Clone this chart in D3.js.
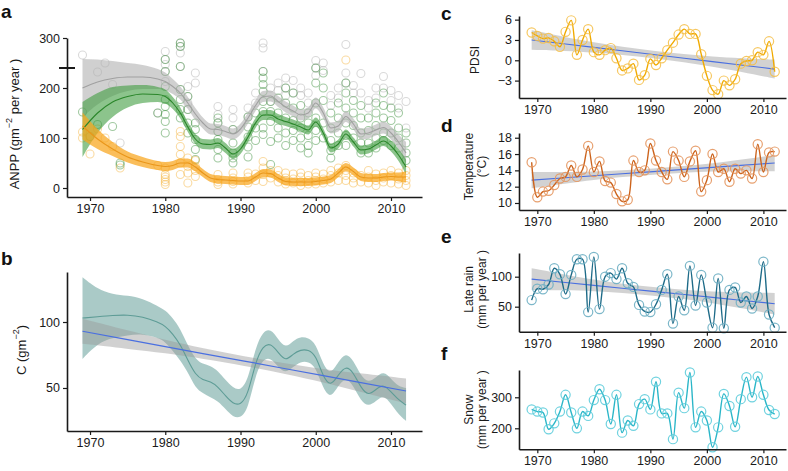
<!DOCTYPE html>
<html><head><meta charset="utf-8">
<script src="https://cdn.jsdelivr.net/npm/d3@7"></script>
<style>
body{margin:0;background:#fff;}
svg text{font-family:"Liberation Sans",Arial,Helvetica,sans-serif;}
</style></head><body>
<svg id="chart" width="788" height="471"></svg>
<script>
// ---------------- DATA ----------------
const xTickYears = [1970, 1980, 1990, 2000, 2010];

// Panel a: ANPP observations per sampled year
const anppYears = [1969,1970,1971,1972,1973,1974,1979,1980,1982,1983,1984,1987,1989,1991,1992,1993,1994,1995,1996,1997,1998,1999,2000,2001,2002,2003,2004,2005,2006,2007,2008,2009,2010,2011,2012];
const anppTotal = [[266],[],[232],[250],[207],[90],[150],[273,257,247,233,213],[290,283,270,243,197],[203,183,170,157],[230,210],[163,147,130,113],[157,140,117],[160,142],[190,170],[290,280,233],[200,173],[210,195],[220,200,185],[215,190],[200,185],[190,170],[255,240,225],[250,235],[185,165],[200,180],[287,230,210],[205,190],[229,190],[175,160],[200,180],[223,200],[195,175],[185,160],[173,120]];
const anppGrass = [[152],[103],[127],[],[123],[50,46],[150],[257,233,203,177,163,147,133,110],[290,283,243,197,177,157,140],[183,157,130,110],[130,117,97,77,57],[140,130,113,97,77,60],[117,90,70,60,50],[142,122,102,82,62],[150,120,95],[233,220,207,193,173,153,120,107],[173,153,133,93,47],[180,150,120,100],[200,170,140,110,85],[190,160,135,115,95],[165,140,120,100,80],[150,130,105,85,70],[240,210,170,140,115,95],[230,200,175,130,100],[150,120,95,75,60],[170,140,110,85],[210,190,160,130,105,85],[175,150,125,100],[165,140,110,90,70],[140,115,90,70],[170,150,125,100,80],[190,165,140,110,95],[160,135,110,85],[150,120,100,80],[110,90,70,55]];
const anppForb = [[112,100],[68],[118],[100],[83],[40],[45],[40,27,17,7,12,22],[113,103,83,67,50,27],[60,43,30,10],[55,43,35,23],[27,17,12,7],[30,20,13,8],[30,22,10],[28,15],[53,40,27,13],[35,30,20],[35,25,12],[30,20,15,8],[28,18,10],[30,22,12,5],[25,15,8],[30,22,15,8],[28,18,10],[35,25,12],[40,30,15],[256,45,35,25,15],[30,20,10],[25,12],[35,22,10],[28,15,5],[30,20,12],[35,25,10],[30,18,8],[35,25,15,5]];
const anppMarkValue = 240;

// Panel a: smoothed fits (loess) with confidence band half-widths
const fitYears = [1969,1971,1973,1975,1977,1979,1980,1981,1982,1983,1984,1985,1986,1987,1988,1989,1990,1991,1992,1993,1994,1995,1996,1997,1998,1999,2000,2001,2002,2003,2004,2005,2006,2007,2008,2009,2010,2011,2012];
const totalFit  = [200,212,219,222,222,218,213,203,190,170,148,130,118,117,113,108,118,140,165,183,184,173,162,154,146,150,170,150,120,124,143,128,108,110,116,121,110,92,70];
const totalHalf = [58,45,35,28,24,20,18,15,13,12,12,11,11,11,11,11,11,11,11,11,11,11,11,11,11,11,11,11,11,11,11,11,11,11,11,12,13,15,22];
const grassFit  = [117,150,172,183,188,187,183,170,150,122,98,88,87,90,80,68,78,102,130,146,146,138,133,128,122,116,132,110,80,88,108,92,76,78,86,94,84,66,42];
const grassHalf = [55,40,30,22,18,15,14,12,11,10,10,10,10,10,10,10,10,10,10,10,10,10,9,9,9,9,9,9,9,9,9,9,9,9,9,10,11,12,15];
const forbFit   = [124,98,78,62,52,45,43,45,50,50,42,30,20,17,16,15,14,14,22,30,29,20,13,12,12,12,13,15,18,30,42,33,22,20,20,22,23,22,22];
const forbHalf  = [27,20,14,11,10,9,9,9,9,9,9,8,8,8,8,8,8,8,8,8,8,8,8,8,8,8,8,8,8,8,8,8,8,8,8,8,8,9,11];

// Panel b: C smoothed fit and band; linear trend with band
const cYears = [1969,1971,1973,1975,1977,1979,1980,1981,1982,1983,1984,1985,1986,1987,1988,1989,1990,1991,1992,1993,1994,1995,1996,1997,1998,1999,2000,2001,2002,2003,2004,2005,2006,2007,2008,2009,2010,2011,2012];
const cFit = [103,104,105,105.5,104,100,97,91,83,71,60,56,55,51,44,38,37,45,70,82,84,77,70,76,79,79,75,58,51,60,67,62,50,44,49,53,47,41,37];
const cLo  = [72,84,88,90,91,88,85,78,71,62,50,46,43,40,34,28,27,34,60,72,73,66,61,66,70,70,66,49,42,52,58,52,40,36,40,45,38,30,25];
const cHi  = [134,125,121,120,118,112,109,103,95,82,72,68,67,63,56,50,48,56,81,93,95,87,80,86,89,88,84,67,60,70,77,71,59,54,58,63,57,51,50];

const trendYears = [1969,1975,1980,1985,1990.5,1996,2001,2006,2012];
const cTrend     = [93,86.7,81.4,76.1,70.4,64.6,59.3,54.0,47.7];
const cTrendHalf = [9.5,7,5,4,3.5,4,5,7,9.5];

// Panels c-f: annual climate series
const years = [1969,1970,1971,1972,1973,1974,1975,1976,1977,1978,1979,1980,1981,1982,1983,1984,1985,1986,1987,1988,1989,1990,1991,1992,1993,1994,1995,1996,1997,1998,1999,2000,2001,2002,2003,2004,2005,2006,2007,2008,2009,2010,2011,2012];
const pdsi = [4.1,3.6,3.2,3.3,2.8,2.0,4.2,5.9,0.8,3.0,4.6,1.2,0.8,1.5,1.8,0.3,-1.5,-1.2,-0.5,-2.9,-2.2,0.2,-0.7,0.3,1.5,2.6,3.8,4.6,3.9,3.9,0.9,-2.3,-4.4,-5.0,-3.0,-3.7,-2.8,-0.5,-0.1,0.0,1.2,0.8,2.8,-1.7];
const pdsiTrend = [3.0,2.4,1.9,1.4,0.85,0.3,-0.2,-0.7,-1.3];
const pdsiHalf  = [1.45,1.0,0.75,0.6,0.55,0.6,0.75,1.0,1.4];

const temperature = [15.0,10.7,11.4,11.5,12.2,13.0,13.2,14.6,13.2,14.1,17.0,13.8,15.1,12.7,12.5,11.1,10.2,10.4,15.2,13.8,14.0,17.3,15.2,13.8,12.9,16.3,15.2,13.2,15.1,16.4,11.4,12.8,16.0,13.8,14.2,12.6,14.2,13.6,14.0,13.0,17.2,13.8,16.2,16.3];
const tempTrend = [12.8,13.09,13.34,13.58,13.85,14.12,14.36,14.61,14.9];
const tempHalf  = [1.0,0.7,0.5,0.4,0.38,0.4,0.5,0.7,1.0];

const lateRain = [61,80,79,87,114,104,71,103,129,129,41,133,46,100,106,96,114,89,83,53,42,41,54,78,104,22,67,44,118,52,103,57,15,97,14,78,82,57,67,47,67,125,37,15];
const rainTrend = [96,90.3,85.5,80.7,75.5,70.3,65.5,60.7,55];
const rainHalf  = [18,13,9.5,7.5,7,7.5,9.5,13,18];

const snow = [261,254,251,197,216,254,308,251,200,254,240,291,326,291,214,308,186,225,208,278,294,261,350,248,248,165,315,265,380,203,254,225,139,203,311,272,205,294,365,300,367,308,259,246];

// ---------------- DRAWING ----------------
const svg = d3.select("#chart");
const INK = "#1a1a1a";

function axes(x, y, yTicks, fs) {
  const gx = svg.append("g").attr("transform", `translate(0,${y.range()[0]})`)
    .call(d3.axisBottom(x).tickValues(xTickYears).tickFormat(d3.format("d")).tickSize(4).tickSizeOuter(0).tickPadding(3));
  const gy = svg.append("g").attr("transform", `translate(${x.range()[0]},0)`)
    .call(d3.axisLeft(y).tickValues(yTicks).tickSize(4).tickSizeOuter(0).tickPadding(3));
  [gx, gy].forEach(a => {
    a.select(".domain").attr("stroke", INK).attr("stroke-width", 1.6);
    a.selectAll(".tick line").attr("stroke", INK).attr("stroke-width", 1.2);
    a.selectAll(".tick text").attr("fill", INK).style("font-size", fs + "px");
  });
}
function letter(t, x, y) {
  svg.append("text").attr("x", x).attr("y", y).text(t)
    .style("font-size", "19px").style("font-weight", "bold").attr("fill", "#111");
}
function band(x, y, xs, mid, half, color, op, curve) {
  const ar = d3.area().curve(curve || d3.curveMonotoneX)
    .x((d, i) => x(xs[i])).y0((d, i) => y(mid[i] - half[i])).y1((d, i) => y(mid[i] + half[i]));
  svg.append("path").attr("d", ar(mid)).attr("fill", color).attr("opacity", op);
}
function line(x, y, xs, vals, color, w, curve) {
  const ln = d3.line().curve(curve || d3.curveMonotoneX).x((d, i) => x(xs[i])).y(d => y(d));
  svg.append("path").attr("d", ln(vals)).attr("fill", "none").attr("stroke", color).attr("stroke-width", w);
}

// ----- Panel a -----
{
  const x = d3.scaleLinear().domain([1966.94, 2014.12]).range([67, 422]);
  const y = d3.scaleLinear().domain([-18, 300]).range([197, 38]);
  const pts = (arr, col) => {
    anppYears.forEach((yr, i) => arr[i].forEach(v => {
      svg.append("circle").attr("cx", x(yr)).attr("cy", y(v)).attr("r", 4)
        .attr("fill", "none").attr("stroke", col).attr("stroke-width", 1.1);
    }));
  };
  pts(anppTotal, "rgba(160,160,160,0.4)");
  pts(anppGrass, "rgba(70,150,70,0.5)");
  pts(anppForb, "rgba(245,175,50,0.45)");
  band(x, y, fitYears, totalFit, totalHalf, "#b0b0b0", 0.6);
  band(x, y, fitYears, grassFit, grassHalf, "#3f9d3f", 0.6);
  band(x, y, fitYears, forbFit, forbHalf, "#f8a51c", 0.72);
  line(x, y, fitYears, totalFit, "#a0a0a0", 1.1);
  line(x, y, fitYears, grassFit, "#2a862a", 1.1);
  line(x, y, fitYears, forbFit, "#e9961a", 1.1);
  axes(x, y, [0, 100, 200, 300], 12.5);
  svg.append("line").attr("x1", 59).attr("x2", 75).attr("y1", y(anppMarkValue)).attr("y2", y(anppMarkValue))
    .attr("stroke", INK).attr("stroke-width", 2);
  const t = svg.append("text").attr("transform", "translate(14,124) rotate(-90)").attr("text-anchor", "middle")
    .attr("dominant-baseline", "central").style("font-size", "13px").attr("fill", INK);
  t.append("tspan").text("ANPP (gm");
  t.append("tspan").attr("dy", -5).style("font-size", "9px").text("−2");
  t.append("tspan").attr("dy", 5).text(" per year )");
  letter("a", 1, 18);
}

// ----- Panel b -----
{
  const x = d3.scaleLinear().domain([1966.94, 2014.12]).range([67, 422]);
  const y = d3.scaleLinear().domain([17.4, 137.9]).range([431, 272]);
  const half = cFit.map((d, i) => (cHi[i] - cLo[i]) / 2);
  const mid = cFit.map((d, i) => (cHi[i] + cLo[i]) / 2);
  band(x, y, cYears, mid, half, "#76aaa4", 0.62, d3.curveBasis);
  band(x, y, trendYears, cTrend, cTrendHalf, "#9a9a9a", 0.45, d3.curveBasis);
  line(x, y, cYears, cFit, "#5e9c96", 1.1, d3.curveBasis);
  line(x, y, trendYears, cTrend, "#4a6fe0", 1.2, d3.curveLinear);
  axes(x, y, [50, 100], 12.5);
  const t = svg.append("text").attr("transform", "translate(21,350) rotate(-90)").attr("text-anchor", "middle")
    .attr("dominant-baseline", "central").style("font-size", "13px").attr("fill", INK);
  t.append("tspan").text("C (gm");
  t.append("tspan").attr("dy", -5).style("font-size", "9px").text("−2");
  t.append("tspan").attr("dy", 5).text(")");
  letter("b", 1, 265);
}

// ----- Panels c-f -----
function climate(cfg) {
  const x = d3.scaleLinear().domain([1966.76, 2014.0]).range([519, 786]);
  const y = d3.scaleLinear().domain(cfg.dom).range(cfg.rng);
  if (cfg.trend) {
    band(x, y, trendYears, cfg.trend, cfg.half, "#a5a5a5", 0.5, d3.curveBasis);
    line(x, y, trendYears, cfg.trend, "#4a6fe0", 1.1, d3.curveLinear);
  }
  line(x, y, years, cfg.vals, cfg.line, 1.4, d3.curveCatmullRom);
  cfg.vals.forEach((v, i) => svg.append("circle").attr("cx", x(years[i])).attr("cy", y(v)).attr("r", 4.6)
    .attr("fill", "none").attr("stroke", cfg.pt).attr("stroke-width", 1.2));
  axes(x, y, cfg.ticks, 12.5);
  const cy = (cfg.rng[0] + cfg.rng[1]) / 2 + (cfg.dy || 0);
  cfg.title.forEach((s, k) => {
    const xx = cfg.title.length === 1 ? 475 : 469 + k * 12.5;
    svg.append("text").attr("transform", `translate(${xx},${cy}) rotate(-90)`).attr("text-anchor", "middle")
      .attr("dominant-baseline", "central").style("font-size", "12px").attr("fill", INK).text(s);
  });
  letter(cfg.letter, 441, cfg.ly);
}
climate({ vals: pdsi, trend: pdsiTrend, half: pdsiHalf, dom: [-5.57, 6.54], rng: [98, 16], ticks: [-3, 0, 3, 6],
  line: "#f0aa00", pt: "rgba(245,190,70,0.85)", title: ["PDSI"], letter: "c", ly: 20, dy: 3 });
climate({ vals: temperature, trend: tempTrend, half: tempHalf, dom: [9.14, 18.58], rng: [210, 133], ticks: [10, 12, 14, 16, 18],
  line: "#cc631c", pt: "rgba(228,150,95,0.9)", title: ["Temperature", "(°C)"], letter: "d", ly: 132, dy: -5 });
climate({ vals: lateRain, trend: rainTrend, half: rainHalf, dom: [8.3, 139.5], rng: [331.7, 253], ticks: [50, 100],
  line: "#1e6b88", pt: "rgba(110,175,195,0.9)", title: ["Late rain", "(mm per year )"], letter: "e", ly: 243, dy: -3 });
climate({ vals: snow, dom: [132.3, 388], rng: [449.3, 370], ticks: [200, 300],
  line: "#2ab6c8", pt: "rgba(95,205,220,0.9)", title: ["Snow", "(mm per year )"], letter: "f", ly: 360 });
</script>
</body></html>
